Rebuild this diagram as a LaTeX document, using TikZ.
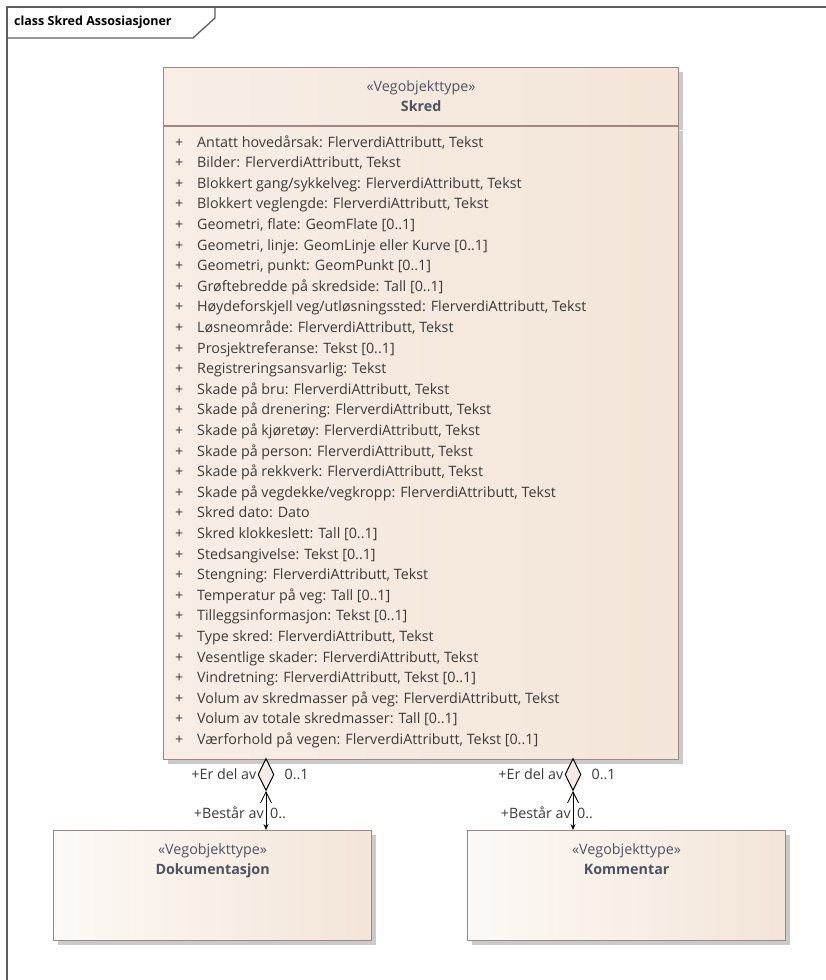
\documentclass[tikz,border=0pt]{standalone}
\usepackage{fontspec}
\setmainfont{Open Sans}
\usetikzlibrary{positioning,shapes.geometric,shadows,arrows.meta}

\definecolor{frameline}{HTML}{5C5C5C}
\definecolor{boxline}{HTML}{A08585}
\definecolor{boxleft}{HTML}{FDF9F6}
\definecolor{boxright}{HTML}{F3E5D8}
\definecolor{skredleft}{HTML}{F8EEE6}
\definecolor{shadowgrey}{HTML}{CACACA}
\definecolor{nametext}{HTML}{4E5363}
\definecolor{attrtext}{HTML}{3A3A3A}
\definecolor{diamondfill}{HTML}{F6EBE7}

\tikzset{
  classbox/.style={draw=boxline, line width=1.2pt, rectangle, inner sep=0pt,
    left color=boxleft, right color=boxright,
    drop shadow={shadow xshift=4pt, shadow yshift=-4pt, opacity=1, fill=shadowgrey}},
  skredbox/.style={classbox, left color=skredleft},
  stereo/.style={align=center, text=nametext, font=\fontsize{14.3}{20}\selectfont, inner sep=0pt},
  attrlist/.style={align=left, text=attrtext, font=\fontsize{14.3}{20.6}\selectfont},
  agg/.style={diamond, draw=black, line width=1pt, fill=diamondfill, inner sep=0pt,
    minimum width=16pt, minimum height=32pt},
  assoc/.style={line width=0.8pt, {Straight Barb[length=11pt,width=11pt]}-{Stealth[length=6pt,width=5pt]}},
  rolelbl/.style={text=attrtext, font=\fontsize{14.3}{16}\selectfont, inner sep=0pt}
}
\newcommand{\attr}[1]{\makebox[22pt][l]{+}#1}

\begin{document}
\begin{tikzpicture}[x=1pt, y=-1pt]
    \useasboundingbox (0,0) rectangle (826,980);

    % Frame
    \draw[frameline, line width=1.3pt] (7,980) -- (7,7) -- (826,7);
    \draw[frameline, line width=1.3pt] (7,38) -- (193,38) -- (215,18) -- (215,7);
    \node (title) [anchor=west, font=\fontsize{12.5}{14}\selectfont\bfseries, inner sep=0pt] at (14,22) {class Skred Assosiasjoner};

    % Nodes
    \node (skred) [skredbox, anchor=north west, minimum width=515pt, minimum height=58pt] at (163,67) {};
    \node (skredname) [stereo] at (skred.center) {«Vegobjekttype»\\\textbf{Skred}};
    \node (skredattr) [skredbox, anchor=north west, minimum width=515pt, minimum height=633pt] at (skred.south west) {};
    \node (attrs) [attrlist, anchor=north west, inner sep=0pt] at ([xshift=12pt, yshift=-9pt]skredattr.north west) {%
      \attr{Antatt hovedårsak: FlerverdiAttributt, Tekst}\\
      \attr{Bilder: FlerverdiAttributt, Tekst}\\
      \attr{Blokkert gang/sykkelveg: FlerverdiAttributt, Tekst}\\
      \attr{Blokkert veglengde: FlerverdiAttributt, Tekst}\\
      \attr{Geometri, flate: GeomFlate [0..1]}\\
      \attr{Geometri, linje: GeomLinje eller Kurve [0..1]}\\
      \attr{Geometri, punkt: GeomPunkt [0..1]}\\
      \attr{Grøftebredde på skredside: Tall [0..1]}\\
      \attr{Høydeforskjell veg/utløsningssted: FlerverdiAttributt, Tekst}\\
      \attr{Løsneområde: FlerverdiAttributt, Tekst}\\
      \attr{Prosjektreferanse: Tekst [0..1]}\\
      \attr{Registreringsansvarlig: Tekst}\\
      \attr{Skade på bru: FlerverdiAttributt, Tekst}\\
      \attr{Skade på drenering: FlerverdiAttributt, Tekst}\\
      \attr{Skade på kjøretøy: FlerverdiAttributt, Tekst}\\
      \attr{Skade på person: FlerverdiAttributt, Tekst}\\
      \attr{Skade på rekkverk: FlerverdiAttributt, Tekst}\\
      \attr{Skade på vegdekke/vegkropp: FlerverdiAttributt, Tekst}\\
      \attr{Skred dato: Dato}\\
      \attr{Skred klokkeslett: Tall [0..1]}\\
      \attr{Stedsangivelse: Tekst [0..1]}\\
      \attr{Stengning: FlerverdiAttributt, Tekst}\\
      \attr{Temperatur på veg: Tall [0..1]}\\
      \attr{Tilleggsinformasjon: Tekst [0..1]}\\
      \attr{Type skred: FlerverdiAttributt, Tekst}\\
      \attr{Vesentlige skader: FlerverdiAttributt, Tekst}\\
      \attr{Vindretning: FlerverdiAttributt, Tekst [0..1]}\\
      \attr{Volum av skredmasser på veg: FlerverdiAttributt, Tekst}\\
      \attr{Volum av totale skredmasser: Tall [0..1]}\\
      \attr{Værforhold på vegen: FlerverdiAttributt, Tekst [0..1]}};

    \node (dok) [classbox, anchor=north west, minimum width=318pt, minimum height=110pt] at (53,830) {};
    \node (dokname) [stereo, below=13pt of dok.north] {«Vegobjekttype»\\\textbf{Dokumentasjon}};
    \node (kom) [classbox, anchor=north west, minimum width=318pt, minimum height=110pt] at (467,830) {};
    \node (komname) [stereo, below=13pt of kom.north] {«Vegobjekttype»\\\textbf{Kommentar}};

    \node (aggdok) [agg, anchor=north] at (266,758) {};
    \node (aggkom) [agg, anchor=north] at (573,758) {};

    % Arrows
    \draw[assoc] (aggdok.south) -- (aggdok.south |- dok.north);
    \draw[assoc] (aggkom.south) -- (aggkom.south |- kom.north);

    % Role labels
    \node (dokwhole) [rolelbl, left=1pt of aggdok] {+Er del av};
    \node (dokwholem) [rolelbl, right=10pt of aggdok] {0..1};
    \node (dokpart) [rolelbl, anchor=east] at (264,813) {+Består av};
    \node (dokpartm) [rolelbl, anchor=west] at (270,813) {0..};
    \node (komwhole) [rolelbl, left=1pt of aggkom] {+Er del av};
    \node (komwholem) [rolelbl, right=10pt of aggkom] {0..1};
    \node (kompart) [rolelbl, anchor=east] at (571,813) {+Består av};
    \node (kompartm) [rolelbl, anchor=west] at (577,813) {0..};
\end{tikzpicture}
\end{document}
